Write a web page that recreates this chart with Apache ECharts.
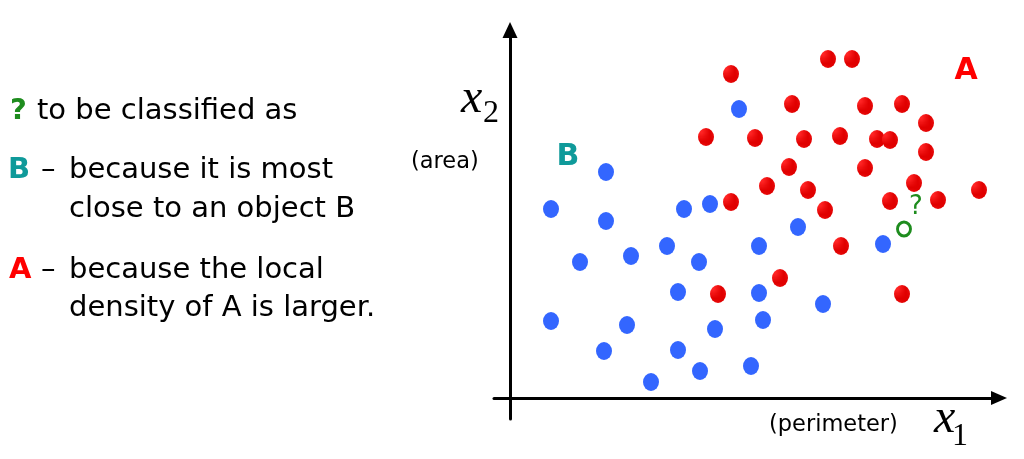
<!DOCTYPE html>
<html>
<head>
<meta charset="utf-8">
<script src="https://cdn.jsdelivr.net/npm/echarts@6/dist/echarts.min.js"></script>
<style>html,body{margin:0;padding:0;background:#fff;}#c{width:1024px;height:459px;}</style>
</head>
<body>
<div id="c"></div>
<script>
// x1 = perimeter, x2 = area (arbitrary units)
const classA_x1 = [221, 318, 342, 282, 355, 392, 416, 196, 245, 294, 330, 367, 380, 416, 279, 355, 257, 298, 404, 380, 428, 469, 221, 315, 331, 270, 208, 392];
const classA_x2 = [324, 339, 339, 294, 292, 294, 275, 261, 260, 259, 262, 259, 258, 246, 231, 230, 212, 208, 215, 197, 198, 208, 196, 188, 152, 120, 104, 104];
const classB_x1 = [229, 96, 41, 96, 174, 200, 70, 121, 157, 189, 249, 288, 373, 168, 249, 313, 41, 117, 205, 253, 94, 168, 190, 141, 241];
const classB_x2 = [289, 226, 189, 177, 189, 194, 136, 142, 152, 136, 152, 171, 154, 106, 105, 94, 77, 73, 69, 78, 47, 48, 27, 16, 32];
const query_x1 = [394];
const query_x2 = [169];

const chart = echarts.init(document.getElementById('c'), null, {renderer: 'canvas'});

// hatched red fill
const pc = document.createElement('canvas');
pc.width = 4; pc.height = 4;
const pctx = pc.getContext('2d');
pctx.fillStyle = '#ff2424'; pctx.fillRect(0, 0, 4, 4);
pctx.fillStyle = '#ffaaaa'; pctx.fillRect(2, 2, 1, 1);
pctx.fillStyle = '#ff6a6a'; pctx.fillRect(1, 2, 1, 1); pctx.fillRect(2, 1, 1, 1);
pctx.fillStyle = '#e00000'; pctx.fillRect(0, 0, 4, 1); pctx.fillRect(0, 0, 1, 4);

const zip = (a, b) => a.map((v, i) => [v, b[i]]);
const F = '"DejaVu Sans", Verdana, sans-serif';
const SER = '"Liberation Serif", "Times New Roman", serif';
const LF = '29px ' + F;
const LB = 'bold 29px ' + F;
const T = (x, y, text, font, fill, align) => ({
  type: 'text', x: x, y: y, silent: true,
  style: {text: text, font: font, fill: fill, textAlign: align || 'left', textVerticalAlign: 'middle', verticalAlign: 'middle'}
});

chart.setOption({
  animation: false,
  backgroundColor: '#fff',
  grid: {left: 494, right: 25, top: 30, bottom: 40, containLabel: false},
  xAxis: {
    type: 'value', min: -16, max: 489,
    axisLine: {onZero: true, lineStyle: {color: '#000', width: 3}, symbol: ['none', 'triangle'], symbolSize: [14, 16]},
    axisTick: {show: false}, axisLabel: {show: false}, splitLine: {show: false}
  },
  yAxis: {
    type: 'value', min: -21, max: 368,
    axisLine: {onZero: true, lineStyle: {color: '#000', width: 3}, symbol: ['none', 'triangle'], symbolSize: [15, 16]},
    axisTick: {show: false}, axisLabel: {show: false}, splitLine: {show: false}
  },
  series: [
    {
      name: 'A', type: 'scatter', data: zip(classA_x1, classA_x2),
      symbol: 'circle', symbolSize: [16, 18],
      itemStyle: {color: {image: pc, repeat: 'repeat'}, opacity: 1},
      emphasis: {disabled: true}
    },
    {
      name: 'B', type: 'scatter', data: zip(classB_x1, classB_x2),
      symbol: 'circle', symbolSize: [16, 18],
      itemStyle: {color: '#3366ff', opacity: 1},
      emphasis: {disabled: true}
    },
    {
      name: '?', type: 'scatter', data: zip(query_x1, query_x2),
      symbol: 'circle', symbolSize: [13, 14],
      itemStyle: {color: '#ffffff', borderColor: '#1e8c1e', borderWidth: 3, opacity: 1},
      label: {show: true, formatter: '?', position: 'inside', offset: [12, -22], fontSize: 26, fontFamily: F, color: '#1e8c1e'},
      emphasis: {disabled: true}
    }
  ],
  graphic: [
    T(10, 111, '?', LB, '#1e8c1e'),
    T(37, 111, 'to be classified as', LF, '#000'),
    T(8, 170, 'B', LB, '#0f9a9a'),
    T(41, 170, '–', LF, '#000'),
    T(69, 170, 'because it is most', LF, '#000'),
    T(69, 209, 'close to an object B', LF, '#000'),
    T(9, 270, 'A', LB, '#ff0000'),
    T(41, 270, '–', LF, '#000'),
    T(69, 270, 'because the local', LF, '#000'),
    T(69, 308, 'density of A is larger.', LF, '#000'),
    T(461, 99, 'x', 'italic 48px ' + SER, '#000'),
    T(483, 114, '2', '32px ' + SER, '#000'),
    T(411, 162, '(area)', '22.5px ' + F, '#000'),
    T(934, 419, 'x', 'italic 48px ' + SER, '#000'),
    T(952, 437, '1', '32px ' + SER, '#000'),
    T(769, 425, '(perimeter)', '22.5px ' + F, '#000'),
    T(568, 157, 'B', 'bold 30px ' + F, '#0f9a9a', 'center'),
    T(966, 71, 'A', 'bold 30px ' + F, '#ff0000', 'center')
  ]
});
</script>
</body>
</html>
